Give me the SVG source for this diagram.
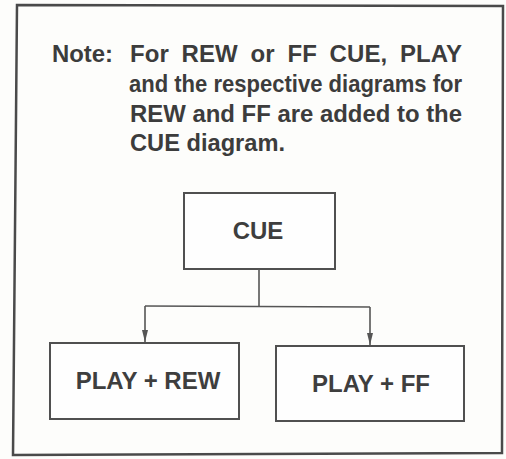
<svg xmlns="http://www.w3.org/2000/svg" width="506" height="459" viewBox="0 0 506 459">
<style>
.bg{fill:#fdfdfb}
.frame{fill:none;stroke:#4a4a4a;stroke-width:2.5}
.box{fill:#fefefe;stroke:#505050;stroke-width:2}
.note{font-family:"Liberation Sans",Arial,sans-serif;font-weight:bold;font-size:24px;fill:#3c3c3c}
.lbl{font-family:"Liberation Sans",Arial,sans-serif;font-weight:bold;font-size:24px;fill:#3e3e3e}
.conn{fill:none;stroke:#555;stroke-width:1.6}
</style>
<defs>
<marker id="arr" viewBox="0 0 12 6" refX="12" refY="3" markerWidth="12" markerHeight="6" markerUnits="userSpaceOnUse" orient="auto">
<path d="M0,0 L12,3 L0,6 Z" fill="#555"/>
</marker>
</defs>
<rect class="bg" x="0" y="0" width="506" height="459"/>
<path class="frame" d="M17,5 L503,6 L502,453 L13,455 Z"/>
<g id="note">
<text class="note" x="52" y="62" textLength="61" lengthAdjust="spacingAndGlyphs">Note:</text>
<text class="note" x="130" y="62" textLength="332" lengthAdjust="spacing" word-spacing="6">For REW or FF CUE, PLAY</text>
<text class="note" x="129" y="92" textLength="333" lengthAdjust="spacingAndGlyphs">and the respective diagrams for</text>
<text class="note" x="130" y="122" textLength="332" lengthAdjust="spacingAndGlyphs">REW and FF are added to the</text>
<text class="note" x="130" y="151" textLength="155" lengthAdjust="spacingAndGlyphs">CUE diagram.</text>
</g>
<g id="cue">
<rect class="box" x="184" y="193" width="151" height="76"/>
<text class="lbl" x="258" y="239" text-anchor="middle" font-size="22">CUE</text>
</g>
<g id="play-rew">
<rect class="box" x="50" y="343" width="189" height="76"/>
<text class="lbl" x="148" y="389" text-anchor="middle">PLAY + REW</text>
</g>
<g id="play-ff">
<rect class="box" x="276" y="346" width="188" height="75"/>
<text class="lbl" x="371" y="392" text-anchor="middle">PLAY + FF</text>
</g>
<g id="connectors">
<path class="conn" d="M259,269 L259,307"/>
<path class="conn" d="M145,306 L370,307"/>
<path class="conn" d="M145,306 L145,342" marker-end="url(#arr)"/>
<path class="conn" d="M370,307 L370,345" marker-end="url(#arr)"/>
</g>
</svg>
